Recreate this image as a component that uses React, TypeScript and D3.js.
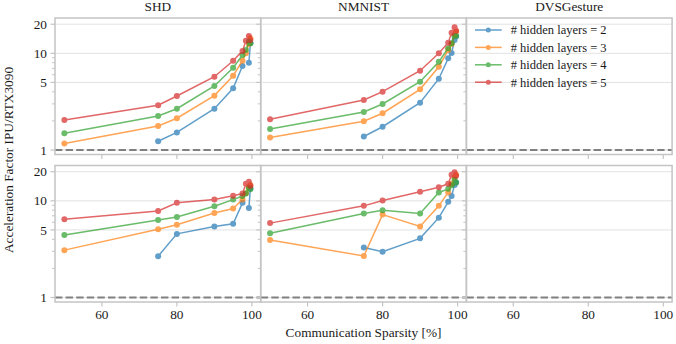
import React from "react";
import * as d3 from "d3";

// sparsity levels (%) shared by every series
const sparsity = [50, 75, 80, 90, 95, 97.5, 98.4, 99.2, 99.6];

const datasets = ["SHD", "NMNIST", "DVSGesture"];
const layerCounts = [2, 3, 4, 5];
const colors = ["#1f77b4", "#ff7f0e", "#2ca02c", "#d62728"];

type S = (number | null)[];

// top row
const shdTop: S[] = [
  [null, 1.23, 1.52, 2.67, 4.34, 7.39, null, 8.0, 12.7],
  [1.17, 1.77, 2.13, 3.65, 5.87, 8.4, 10.0, 12.5, 14.3],
  [1.49, 2.25, 2.67, 4.59, 7.1, 9.6, 10.8, 13.2, 12.7],
  [2.04, 2.9, 3.62, 5.73, 8.39, 10.6, 13.5, 15.1, 13.7],
];
const nmnistTop: S[] = [
  [null, 1.38, 1.74, 3.09, 5.46, 8.87, 10.1, 13.7, 15.0],
  [1.35, 1.98, 2.4, 4.24, 7.27, 10.8, 12.5, 15.5, 16.7],
  [1.65, 2.47, 2.99, 5.09, 8.19, 11.3, 12.7, 15.0, 15.1],
  [2.08, 3.29, 4.01, 6.61, 10.0, 12.9, 16.3, 18.6, 17.1],
];

// bottom row
const shdBottom: S[] = [
  [null, 2.67, 4.55, 5.43, 5.79, 9.53, null, 8.45, 13.5],
  [3.09, 5.08, 5.65, 7.48, 8.32, 10.3, 12.0, 14.0, 14.6],
  [4.44, 6.32, 6.8, 8.8, 10.3, 11.2, 11.9, 13.5, 13.2],
  [6.43, 7.86, 9.53, 10.3, 11.3, 11.9, 15.0, 15.8, 14.3],
];
const nmnistBottom: S[] = [
  [null, 3.29, 2.97, 4.09, 6.7, 9.77, 11.2, 14.6, 15.5],
  [3.93, 2.69, 7.2, 5.43, 8.87, 12.2, 15.0, 17.5, 18.6],
  [4.62, 7.38, 7.99, 7.38, 12.2, 13.3, 14.5, 16.5, 15.5],
  [5.88, 8.87, 10.1, 12.4, 13.8, 15.0, 18.6, 19.7, 18.2],
];

const grid: S[][][] = [
  [shdTop, nmnistTop, []],
  [shdBottom, nmnistBottom, []],
];

const xTicks = [60, 80, 100];
const yMajor = [1, 5, 10, 20];
const yMinor = [2, 3, 4, 6, 7, 8, 9];

const W = 676;
const H = 344;
const left = 55;
const colW = 205.7;
const rows = [
  { top: 18, bottom: 154.5 },
  { top: 165.5, bottom: 302 },
];

const font = '"Liberation Serif", "Times New Roman", "DejaVu Serif", serif';
const frame = "#c4c4c4";
const gridCol = "#e2e2e2";
const ink = "#1a1a1a";

export default function App() {
  return (
    <svg
      width={W}
      height={H}
      style={{ position: "absolute", left: 0, top: 0, background: "#fff", fontFamily: font }}
    >
      {rows.map((r, ri) =>
        datasets.map((name, ci) => {
          const x0 = left + ci * colW;
          const x = d3.scaleLinear().domain([47.5, 102.35]).range([x0, x0 + colW]);
          const y = d3.scaleLog().domain([0.898, 23.2]).range([r.bottom, r.top]);
          const series = grid[ri][ci];
          const line = d3
            .line<[number, number | null]>()
            .defined((d) => d[1] != null)
            .x((d) => x(d[0]))
            .y((d) => y(d[1] as number));
          return (
            <g key={`${ri}-${ci}`}>
              {yMajor.map((v) => (
                <line key={v} x1={x0} x2={x0 + colW} y1={y(v)} y2={y(v)} stroke={gridCol} strokeWidth={1} />
              ))}
              {/* reference line at 1x */}
              <line
                x1={x0}
                x2={x0 + colW}
                y1={y(1)}
                y2={y(1)}
                stroke="#808080"
                strokeWidth={2}
                strokeDasharray="7.4,3.2"
              />
              {series.map((vals, si) => {
                const pts = sparsity.map((s, i) => [s, vals[i]] as [number, number | null]);
                return (
                  <g key={si} opacity={0.7}>
                    <path d={line(pts) || ""} fill="none" stroke={colors[si]} strokeWidth={1.5} />
                    {pts
                      .filter((p) => p[1] != null)
                      .map((p, i) => (
                        <circle key={i} cx={x(p[0])} cy={y(p[1] as number)} r={3} fill={colors[si]} />
                      ))}
                  </g>
                );
              })}
              <rect
                x={x0}
                y={r.top}
                width={colW}
                height={r.bottom - r.top}
                fill="none"
                stroke={frame}
                strokeWidth={1.5}
              />
              {yMajor.map((v) => (
                <line key={"M" + v} x1={x0 - 4.5} x2={x0} y1={y(v)} y2={y(v)} stroke={frame} strokeWidth={1.2} />
              ))}
              {yMinor.map((v) => (
                <line key={"m" + v} x1={x0 - 3} x2={x0} y1={y(v)} y2={y(v)} stroke={frame} strokeWidth={1} />
              ))}
              {ci === 0 &&
                yMajor.map((v) => (
                  <text key={"t" + v} x={x0 - 8} y={y(v)} dy="0.35em" textAnchor="end" fontSize={13.3} fill={ink} style={{ fontFamily: font }}>
                    {v}
                  </text>
                ))}
              {xTicks.map((v) => (
                <line key={"x" + v} x1={x(v)} x2={x(v)} y1={r.bottom} y2={r.bottom + 4.5} stroke={frame} strokeWidth={1.2} />
              ))}
              {ri === 1 &&
                xTicks.map((v) => (
                  <text key={"xt" + v} x={x(v)} y={r.bottom + 17} textAnchor="middle" fontSize={13.3} fill={ink} style={{ fontFamily: font }}>
                    {v}
                  </text>
                ))}
              {ri === 0 && (
                <text x={x0 + colW / 2} y={11} textAnchor="middle" fontSize={13.3} fill={ink} style={{ fontFamily: font }}>
                  {name}
                </text>
              )}
            </g>
          );
        })
      )}

      {/* legend */}
      {layerCounts.map((n, i) => {
        const ly = 30 + i * 17.4;
        return (
          <g key={n}>
            <g opacity={0.7}>
              <line x1={475} x2={501.7} y1={ly} y2={ly} stroke={colors[i]} strokeWidth={1.5} />
              <circle cx={488.3} cy={ly} r={2.5} fill={colors[i]} />
            </g>
            <text x={510.7} y={ly} dy="0.35em" fontSize={12.5} fill={ink} style={{ fontFamily: font }}>
              {`# hidden layers = ${n}`}
            </text>
          </g>
        );
      })}

      <text x={left + colW * 1.5} y={337} textAnchor="middle" fontSize={13.3} fill={ink} style={{ fontFamily: font }}>
        Communication Sparsity [%]
      </text>
      <text
        transform={`translate(12.5,${(rows[0].top + rows[1].bottom) / 2}) rotate(-90)`}
        textAnchor="middle"
        fontSize={13.3}
        fill={ink}
        style={{ fontFamily: font }}
      >
        Acceleration Factor IPU/RTX3090
      </text>
    </svg>
  );
}
